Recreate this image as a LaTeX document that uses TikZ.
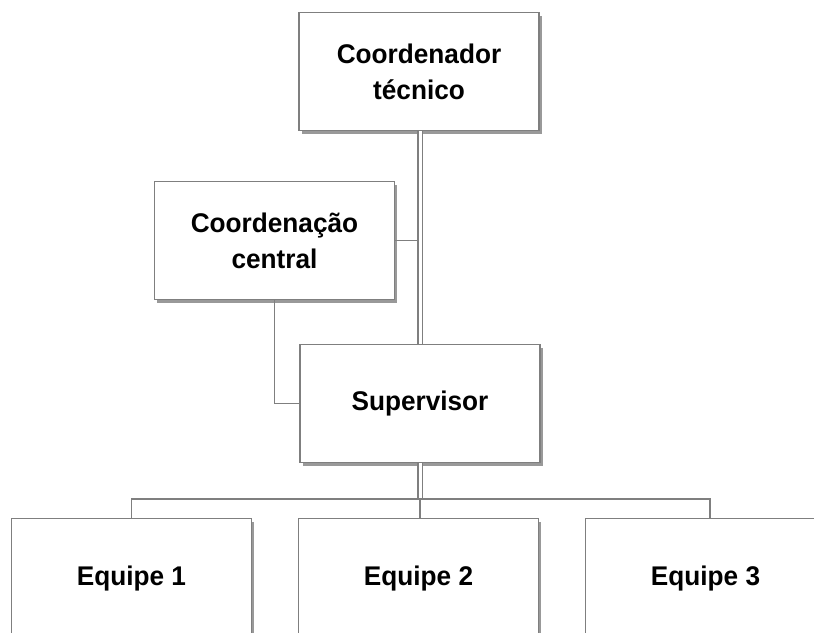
\documentclass[tikz,border=0pt]{standalone}
\usepackage{fontspec}
\setmainfont[FakeStretch=0.97]{Liberation Sans}
\usetikzlibrary{shadows}
\definecolor{linegray}{HTML}{7F7F7F}
\tikzset{
  orgbox/.style={draw=linegray, line width=1.5pt, fill=white, align=center,
    inner sep=0pt, minimum width=240pt, minimum height=118pt,
    font=\fontsize{27}{36}\selectfont\bfseries,
    drop shadow={shadow xshift=2.5pt, shadow yshift=-3pt, opacity=0.4, fill=black}},
  link/.style={draw=linegray, line width=1.6pt},
  dlink/.style={draw=linegray, line width=1.4pt, double=white, double distance=3pt}
}
\begin{document}
\begin{tikzpicture}[x=1pt,y=-1pt]
\useasboundingbox (0,0) rectangle (814,632);
\begin{scope}
\clip (0,0) rectangle (814,632);
\coordinate (bus) at (420,499);
\coordinate (cctap) at (417,242);
\coordinate (supbot) at (420,463);
\coordinate (suptop) at (420,344);

\node[orgbox] (ct) at (419,71.5) {Coordenador\\técnico};
\node[orgbox] (cc) at (274.5,240.5) {Coordenação\\central};
\node[orgbox] (sup) at (420,403.5) {Supervisor};
\node[orgbox, minimum height=120pt] (e1) at (131.5,578.5) {Equipe 1};
\node[orgbox, minimum height=120pt] (e2) at (418.5,578.5) {Equipe 2};
\node[orgbox, minimum height=120pt] (e3) at (705.5,578.5) {Equipe 3};

\draw[dlink] (ct.south -| suptop) -- (sup.north -| suptop);
\draw[link] (cc.east) -- (cc.east -| cctap);
\draw[link] (cc.south) |- (sup.west);
\draw[dlink] (sup.south -| supbot) -- (bus);
\draw[link] (e1.north) |- (bus) -| ([xshift=4.5pt]e3.north);
\draw[link] (bus) -- (e2.north -| bus);
\end{scope}
\end{tikzpicture}
\end{document}
